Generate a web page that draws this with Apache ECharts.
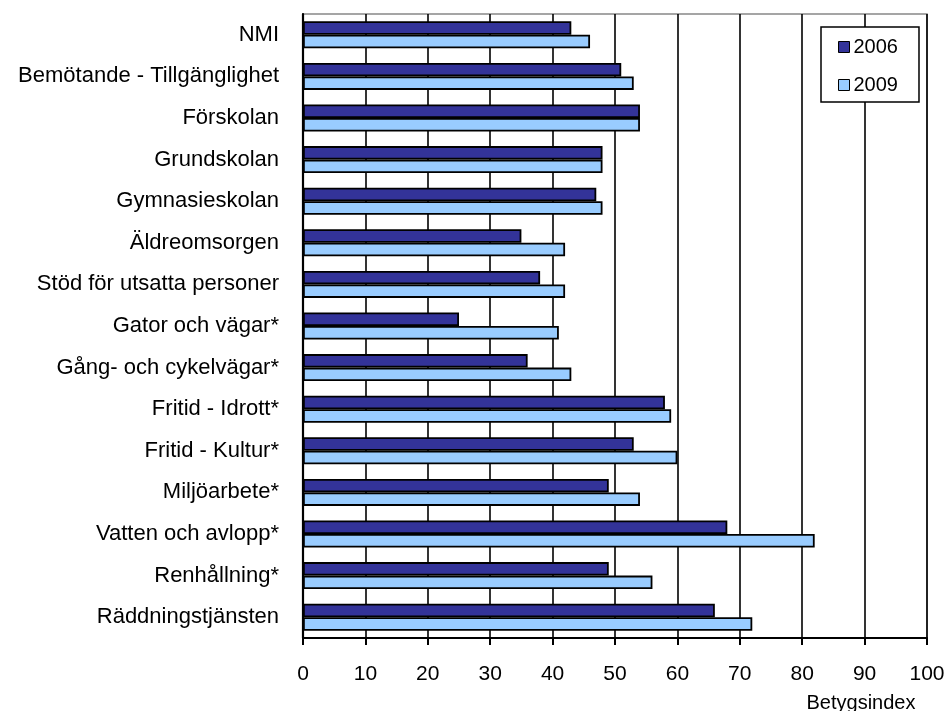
<!DOCTYPE html>
<html>
<head>
<meta charset="utf-8">
<script src="https://cdn.jsdelivr.net/npm/echarts@6/dist/echarts.min.js"></script>
<style>
html,body{margin:0;padding:0;background:#fff;}
#chart{width:948px;height:711px;}
</style>
</head>
<body>
<div id="chart"></div>
<script>
const categories = [
  "NMI",
  "Bemötande - Tillgänglighet",
  "Förskolan",
  "Grundskolan",
  "Gymnasieskolan",
  "Äldreomsorgen",
  "Stöd för utsatta personer",
  "Gator och vägar*",
  "Gång- och cykelvägar*",
  "Fritid - Idrott*",
  "Fritid - Kultur*",
  "Miljöarbete*",
  "Vatten och avlopp*",
  "Renhållning*",
  "Räddningstjänsten"
];
const values2006 = [43, 51, 54, 48, 47, 35, 38, 25, 36, 58, 53, 49, 68, 49, 66];
const values2009 = [46, 53, 54, 48, 48, 42, 42, 41, 43, 59, 60, 54, 82, 56, 72];
const seriesNames = ["2006", "2009"];
const xTicks = [0, 10, 20, 30, 40, 50, 60, 70, 80, 90, 100];
const xAxisTitle = "Betygsindex";

const FONT = "Liberation Sans, Arial, sans-serif";
const chart = echarts.init(document.getElementById('chart'), null, {renderer: 'canvas'});
chart.setOption({
  animation: false,
  backgroundColor: '#fff',
  textStyle: {fontFamily: FONT, color: '#000'},
  title: {
    text: xAxisTitle,
    left: 861, top: 693,
    textAlign: 'center',
    padding: 0,
    textStyle: {fontSize: 20, fontWeight: 'normal', color: '#000', fontFamily: FONT}
  },
  grid: {
    left: 303, right: 21, top: 14, bottom: 73,
    containLabel: false,
    outerBoundsMode: 'none',
    show: true, borderColor: '#888', borderWidth: 1.5, backgroundColor: 'transparent'
  },
  legend: {
    orient: 'vertical',
    left: 821, top: 27,
    padding: [10, 21, 7, 17],
    itemGap: 18,
    itemWidth: 11, itemHeight: 11,
    borderColor: '#000', borderWidth: 1.5,
    backgroundColor: '#fff',
    icon: 'rect',
    data: seriesNames,
    textStyle: {fontFamily: FONT, fontSize: 20, color: '#000', lineHeight: 20, padding: [0, 0, 0, -1]},
    itemStyle: {borderColor: '#000', borderWidth: 1}
  },
  xAxis: {
    type: 'value',
    min: xTicks[0], max: xTicks[xTicks.length - 1], interval: 10,
    axisLine: {show: true, lineStyle: {color: '#000', width: 2}},
    axisTick: {show: true, length: 7, lineStyle: {color: '#000', width: 2}},
    axisLabel: {margin: 26, fontSize: 21, color: '#000', fontFamily: FONT},
    splitLine: {show: true, lineStyle: {color: '#000', width: 1.6}}
  },
  yAxis: {
    type: 'category',
    data: categories,
    inverse: true,
    axisLine: {show: true, lineStyle: {color: '#000', width: 2.2}},
    axisTick: {show: false},
    axisLabel: {margin: 24, fontSize: 22, color: '#000', fontFamily: FONT},
    splitLine: {show: false}
  },
  series: [
    {
      name: seriesNames[0], type: 'bar', data: values2006,
      barCategoryGap: '35%', barGap: '0%',
      itemStyle: {color: '#333399', borderColor: '#000', borderWidth: 1.8}
    },
    {
      name: seriesNames[1], type: 'bar', data: values2009,
      barCategoryGap: '35%', barGap: '0%',
      itemStyle: {color: '#99CCFF', borderColor: '#000', borderWidth: 1.8}
    }
  ]
});
</script>
</body>
</html>
